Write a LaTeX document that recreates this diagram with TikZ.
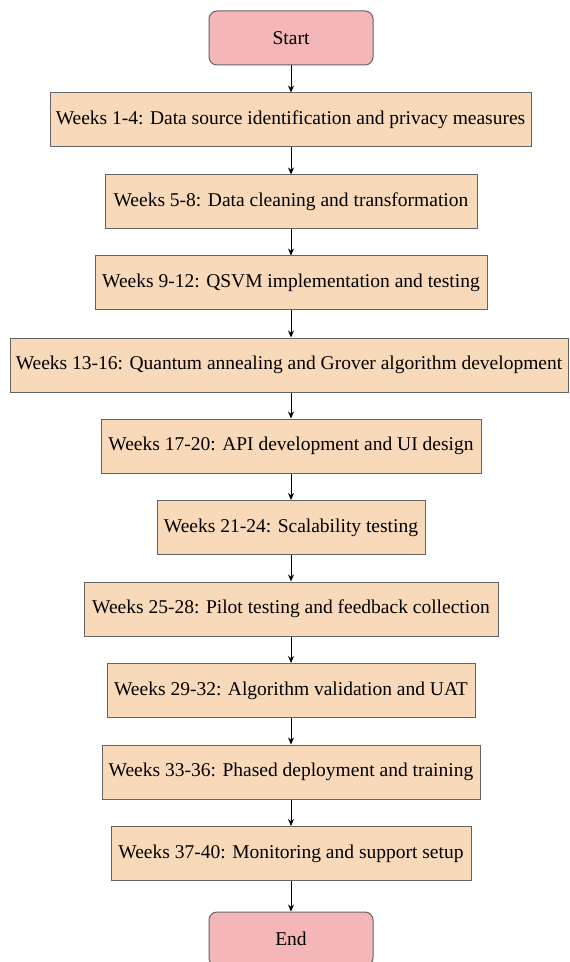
\documentclass[tikz,border=0pt]{standalone}
\usepackage{fontspec}
\setmainfont{Liberation Serif}
\usetikzlibrary{arrows.meta}
\definecolor{termfill}{RGB}{244,182,182}
\definecolor{boxfill}{RGB}{248,218,186}
\definecolor{edgegray}{RGB}{100,100,100}
\tikzset{
  px/.style={x=0.5pt,y=-0.5pt},
  termbox/.style={draw=edgegray, fill=termfill, rounded corners=4pt, line width=0.5pt,
    minimum width=82pt, minimum height=27pt, inner sep=0pt, font=\fontsize{9.75}{11}\selectfont},
  stepbox/.style={draw=edgegray, fill=boxfill, line width=0.5pt,
    minimum height=27pt, inner sep=0pt, font=\fontsize{9.75}{11}\selectfont},
  flow/.style={-{Stealth[length=3.5pt,width=3pt]}, line width=0.45pt, black}
}
\begin{document}
\begin{tikzpicture}[px]
\useasboundingbox (0,0) rectangle (569,962);
\node[termbox] (start) at (291,38) {Start};
\node[stepbox, minimum width=240.5pt] (b1) at (290.5,120) {Weeks 1-4: Data source identification and privacy measures};
\node[stepbox, minimum width=186pt] (b2) at (291,202) {Weeks 5-8: Data cleaning and transformation};
\node[stepbox, minimum width=196pt] (b3) at (291,283) {Weeks 9-12: QSVM implementation and testing};
\node[stepbox, minimum width=279pt] (b4) at (289,365) {Weeks 13-16: Quantum annealing and Grover algorithm development};
\node[stepbox, minimum width=190pt] (b5) at (291,446) {Weeks 17-20: API development and UI design};
\node[stepbox, minimum width=134pt] (b6) at (291,527.5) {Weeks 21-24: Scalability testing};
\node[stepbox, minimum width=207pt] (b7) at (291,609) {Weeks 25-28: Pilot testing and feedback collection};
\node[stepbox, minimum width=184pt] (b8) at (291,690.5) {Weeks 29-32: Algorithm validation and UAT};
\node[stepbox, minimum width=189pt] (b9) at (291,772) {Weeks 33-36: Phased deployment and training};
\node[stepbox, minimum width=180pt] (b10) at (291,853.5) {Weeks 37-40: Monitoring and support setup};
\node[termbox] (end) at (291,939) {End};
\draw[flow] (start.south) -- (b1.north -| start.south);
\draw[flow] (b1.south -| start.south) -- (b2.north -| start.south);
\draw[flow] (b2.south -| start.south) -- (b3.north -| start.south);
\draw[flow] (b3.south -| start.south) -- (b4.north -| start.south);
\draw[flow] (b4.south -| start.south) -- (b5.north -| start.south);
\draw[flow] (b5) -- (b6);
\draw[flow] (b6) -- (b7);
\draw[flow] (b7) -- (b8);
\draw[flow] (b8) -- (b9);
\draw[flow] (b9) -- (b10);
\draw[flow] (b10) -- (end);
\end{tikzpicture}
\end{document}
